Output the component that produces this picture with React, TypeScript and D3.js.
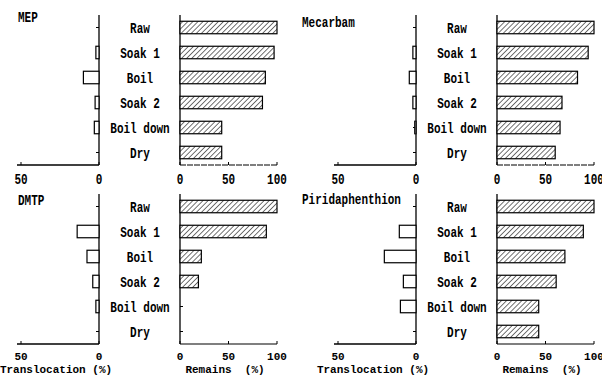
import { useEffect, useRef } from "react";
import * as d3 from "d3";

const WIDTH = 602;
const HEIGHT = 377;

const categories = ["Raw", "Soak 1", "Boil", "Soak 2", "Boil down", "Dry"];
const pesticides = ["MEP", "Mecarbam", "DMTP", "Piridaphenthion"];

// remains (%) and translocation (%) per processing step
const mepRemains = [100, 97, 88, 85, 43, 43];
const mepTransloc = [0, 2, 10, 2.5, 3, 0];
const mecarbamRemains = [100, 94, 83, 67, 65, 60];
const mecarbamTransloc = [0, 2, 4.3, 2, 0.8, 0];
const dmtpRemains = [100, 89, 22, 19, 0, 0];
const dmtpTransloc = [0, 14, 7.7, 4, 2, 0];
const piridRemains = [100, 89, 70, 61, 43, 43];
const piridTransloc = [0, 10.7, 20.3, 8.1, 10, 0];

const remainsTicks = [0, 50, 100];
const translocTicks = [50, 0];

const FONT = "'Liberation Mono', 'DejaVu Sans Mono', monospace";

const App = () => {
  const svgRef = useRef(null);

  useEffect(() => {
    const svg = d3.select(svgRef.current);
    svg.selectAll("*").remove();

    // hatch pattern for the remains bars
    const pattern = svg
      .append("defs")
      .append("pattern")
      .attr("id", "hatch")
      .attr("patternUnits", "userSpaceOnUse")
      .attr("width", 3.6)
      .attr("height", 3.6)
      .attr("patternTransform", "rotate(45)");
    pattern.append("rect").attr("width", 3.6).attr("height", 3.6).attr("fill", "#fff");
    pattern
      .append("line")
      .attr("x1", 0)
      .attr("y1", 0)
      .attr("x2", 0)
      .attr("y2", 3.6)
      .attr("stroke", "#000")
      .attr("stroke-width", 1.1);

    const label = (g: any, x: number, y: number, txt: string, anchor = "middle", sy = 1.3) =>
      g
        .append("text")
        .attr("transform", `translate(${x},${y}) scale(1,${sy})`)
        .attr("text-anchor", anchor)
        .attr("font-family", FONT)
        .attr("font-size", 11)
        .attr("font-weight", "bold")
        .attr("fill", "#000")
        .style("white-space", "pre")
        .text(txt);

    const panels = [
      { name: pesticides[0], remains: mepRemains, transloc: mepTransloc, ox: 0, oy: 0, top: true, tx: 18, ty: 22 },
      { name: pesticides[1], remains: mecarbamRemains, transloc: mecarbamTransloc, ox: 317, oy: 0, top: true, tx: -15, ty: 27 },
      { name: pesticides[2], remains: dmtpRemains, transloc: dmtpTransloc, ox: 0, oy: 179, top: false, tx: 18, ty: 26 },
      { name: pesticides[3], remains: piridRemains, transloc: piridTransloc, ox: 317, oy: 179, top: false, tx: -15, ty: 25 },
    ];

    panels.forEach((p) => {
      const g = svg.append("g").attr("transform", `translate(${p.ox},${p.oy})`);
      const yTop = 15;
      const yBase = 165;
      const tickDy = p.top ? 19 : 16;
      const tickSy = p.top ? 1.3 : 1.0;

      const y = d3
        .scaleBand()
        .domain(categories)
        .range([yTop, yBase])
        .paddingInner(0.5)
        .paddingOuter(0.25);
      const xRem = d3.scaleLinear().domain([0, 100]).range([180, 277]);
      const xTr = d3.scaleLinear().domain([0, 50]).range([99, 21]);

      // title
      label(g, p.tx, p.ty, p.name, "start");

      // translocation axis
      g.append("line")
        .attr("x1", xTr(0)).attr("x2", xTr(0))
        .attr("y1", yTop).attr("y2", yBase)
        .attr("stroke", "#000").attr("stroke-width", 1.3);
      g.append("line")
        .attr("x1", xTr(0)).attr("x2", xTr(50) - 4)
        .attr("y1", yBase).attr("y2", yBase)
        .attr("stroke", "#000").attr("stroke-width", 1.3);
      translocTicks.forEach((t) => {
        g.append("line")
          .attr("x1", xTr(t)).attr("x2", xTr(t))
          .attr("y1", yBase).attr("y2", yBase - 3)
          .attr("stroke", "#000");
        label(g, xTr(t), yBase + tickDy, String(t), "middle", tickSy);
      });

      // remains axis
      g.append("line")
        .attr("x1", xRem(0)).attr("x2", xRem(0))
        .attr("y1", yTop).attr("y2", yBase)
        .attr("stroke", "#000").attr("stroke-width", 1.3);
      g.append("line")
        .attr("x1", xRem(0)).attr("x2", xRem(100))
        .attr("y1", yBase).attr("y2", yBase)
        .attr("stroke", "#000").attr("stroke-width", 1.1)
        .attr("stroke-dasharray", p.top ? "6 1" : null);
      remainsTicks.forEach((t) => {
        g.append("line")
          .attr("x1", xRem(t)).attr("x2", xRem(t))
          .attr("y1", yBase).attr("y2", yBase - 3)
          .attr("stroke", "#000");
        label(g, xRem(t), yBase + tickDy, String(t), "middle", tickSy);
      });

      categories.forEach((c, i) => {
        const cy = (y(c) as number) + y.bandwidth() / 2;
        // category ticks
        g.append("line")
          .attr("x1", xTr(0) - 3).attr("x2", xTr(0))
          .attr("y1", cy).attr("y2", cy)
          .attr("stroke", "#000");
        g.append("line")
          .attr("x1", xRem(0)).attr("x2", xRem(0) + 3)
          .attr("y1", cy).attr("y2", cy)
          .attr("stroke", "#000");
        label(g, 140, cy + 5, c);

        if (p.transloc[i] > 0) {
          g.append("rect")
            .attr("x", xTr(p.transloc[i]))
            .attr("y", y(c) as number)
            .attr("width", xTr(0) - xTr(p.transloc[i]))
            .attr("height", y.bandwidth())
            .attr("fill", "#fff")
            .attr("stroke", "#000")
            .attr("stroke-width", 1.2);
        }
        if (p.remains[i] > 0) {
          g.append("rect")
            .attr("x", xRem(0))
            .attr("y", y(c) as number)
            .attr("width", xRem(p.remains[i]) - xRem(0))
            .attr("height", y.bandwidth())
            .attr("fill", "url(#hatch)")
            .attr("stroke", "#000")
            .attr("stroke-width", 1.2);
        }
      });

      if (!p.top) {
        label(g, 56, 194, "Translocation (%)", "middle", 1.0);
        label(g, 225, 194, "Remains  (%)", "middle", 1.0);
      }
    });
  }, []);

  return (
    <svg
      ref={svgRef}
      width={WIDTH}
      height={HEIGHT}
      style={{ position: "absolute", left: 0, top: 0, background: "#fff" }}
    ></svg>
  );
};

export default App;
